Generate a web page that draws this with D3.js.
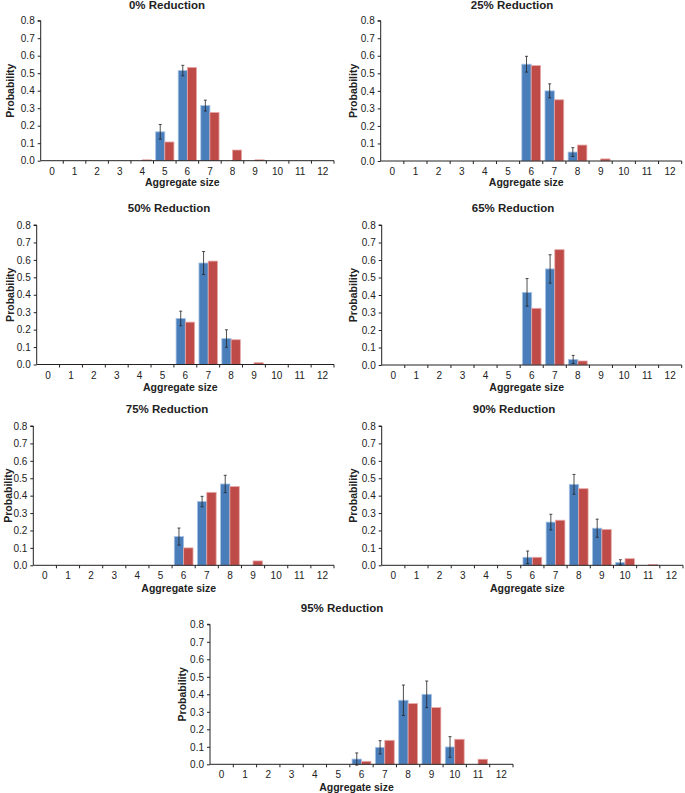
<!DOCTYPE html>
<html>
<head>
<meta charset="utf-8">
<script src="https://cdn.jsdelivr.net/npm/d3@7"></script>
<style>
  body { margin: 0; background: #fff; }
  text { font-family: "Liberation Sans", Arial, sans-serif; }
</style>
</head>
<body>
<div id="chart"></div>
<script>
// categories (aggregate size) and y ticks
const sizes = d3.range(0, 13);
const yTicks = [0, 0.1, 0.2, 0.3, 0.4, 0.5, 0.6, 0.7, 0.8];

const titles = ["0% Reduction", "25% Reduction", "50% Reduction", "65% Reduction",
                "75% Reduction", "90% Reduction", "95% Reduction"];

// blue series (observed) per panel, indexed by aggregate size 0..12
const blue0  = [0, 0, 0, 0, 0, 0.165, 0.515, 0.315, 0, 0, 0, 0, 0];
const blue25 = [0, 0, 0, 0, 0, 0, 0.552, 0.40, 0.051, 0, 0, 0, 0];
const blue50 = [0, 0, 0, 0, 0, 0, 0.264, 0.582, 0.149, 0, 0, 0, 0];
const blue65 = [0, 0, 0, 0, 0, 0, 0.415, 0.549, 0.032, 0, 0, 0, 0];
const blue75 = [0, 0, 0, 0, 0, 0, 0.165, 0.366, 0.467, 0, 0, 0, 0];
const blue90 = [0, 0, 0, 0, 0, 0, 0.046, 0.248, 0.465, 0.213, 0.017, 0, 0];
const blue95 = [0, 0, 0, 0, 0, 0, 0.030, 0.097, 0.366, 0.400, 0.099, 0, 0];

// error (half-length) on blue bars
const err0  = [0, 0, 0, 0, 0, 0.042, 0.03, 0.031, 0, 0, 0, 0, 0];
const err25 = [0, 0, 0, 0, 0, 0, 0.045, 0.04, 0.025, 0, 0, 0, 0];
const err50 = [0, 0, 0, 0, 0, 0, 0.042, 0.066, 0.05, 0, 0, 0, 0];
const err65 = [0, 0, 0, 0, 0, 0, 0.079, 0.081, 0.023, 0, 0, 0, 0];
const err75 = [0, 0, 0, 0, 0, 0, 0.049, 0.03, 0.05, 0, 0, 0, 0];
const err90 = [0, 0, 0, 0, 0, 0, 0.036, 0.045, 0.057, 0.052, 0.015, 0, 0];
const err95 = [0, 0, 0, 0, 0, 0, 0.035, 0.038, 0.087, 0.076, 0.059, 0, 0];

// red series (model)
const red0  = [0, 0, 0, 0, 0.005, 0.107, 0.533, 0.276, 0.061, 0.005, 0, 0, 0];
const red25 = [0, 0, 0, 0, 0, 0, 0.544, 0.349, 0.091, 0.012, 0, 0, 0];
const red50 = [0, 0, 0, 0, 0, 0, 0.243, 0.593, 0.142, 0.01, 0, 0, 0];
const red65 = [0, 0, 0, 0, 0, 0, 0.324, 0.659, 0.023, 0, 0, 0, 0];
const red75 = [0, 0, 0, 0, 0, 0, 0.10, 0.419, 0.452, 0.025, 0, 0, 0];
const red90 = [0, 0, 0, 0, 0, 0, 0.046, 0.259, 0.44, 0.206, 0.038, 0.004, 0];
const red95 = [0, 0, 0, 0, 0, 0, 0.017, 0.137, 0.347, 0.324, 0.143, 0.029, 0];

const blues = [blue0, blue25, blue50, blue65, blue75, blue90, blue95];
const errs  = [err0, err25, err50, err65, err75, err90, err95];
const reds  = [red0, red25, red50, red65, red75, red90, red95];

// plot-area boxes for each panel (left, right, top, bottom)
const boxes = [
  {l: 40.7, r: 334, t: 20.7, b: 160.7, tx: 167, ty: 9,   px: 10,  ay: 186},
  {l: 380.7, r: 681.7, t: 20.7, b: 161, tx: 512, ty: 9,  px: 353, ay: 186},
  {l: 36.7, r: 334, t: 225, b: 364.5, tx: 169, ty: 212,  px: 10,  ay: 391},
  {l: 381.7, r: 681.7, t: 225, b: 365, tx: 513, ty: 212, px: 353, ay: 391},
  {l: 33.3, r: 334, t: 426, b: 565.3, tx: 167, ty: 413,  px: 8,   ay: 592},
  {l: 381.7, r: 683, t: 426, b: 565.3, tx: 514, ty: 413, px: 353, ay: 592},
  {l: 210, r: 513, t: 624.3, b: 764.3, tx: 342, ty: 612, px: 182, ay: 791}
];

const blueFill = "#4a7ebb", blueEdge = "#a9c3e4";
const redFill = "#be4b48", redEdge = "#e6a9a8";
const axisColor = "#222";

const svg = d3.select("#chart").append("svg")
  .attr("width", 685)
  .attr("height", 793);

boxes.forEach((box, k) => {
  const g = svg.append("g");

  const pad = 0.19;
  const x = d3.scaleBand()
    .domain(sizes)
    .range([box.l, box.r])
    .paddingInner(pad)
    .paddingOuter(pad / 2);
  const xs = d3.scaleBand()
    .domain(["blue", "red"])
    .range([0, x.bandwidth()]);
  const y = d3.scaleLinear()
    .domain([0, 0.8])
    .range([box.b, box.t]);

  // bars
  const rows = sizes.map(s => ({s: s, blue: blues[k][s], red: reds[k][s], err: errs[k][s]}));

  g.selectAll("rect.blue")
    .data(rows.filter(d => d.blue > 0))
    .enter().append("rect")
      .attr("x", d => x(d.s) + xs("blue"))
      .attr("y", d => y(d.blue))
      .attr("width", xs.bandwidth())
      .attr("height", d => y(0) - y(d.blue))
      .style("fill", blueFill)
      .style("stroke", blueEdge)
      .style("stroke-width", 0.8);

  g.selectAll("rect.red")
    .data(rows.filter(d => d.red > 0))
    .enter().append("rect")
      .attr("x", d => x(d.s) + xs("red"))
      .attr("y", d => y(d.red))
      .attr("width", xs.bandwidth())
      .attr("height", d => y(0) - y(d.red))
      .style("fill", redFill)
      .style("stroke", redEdge)
      .style("stroke-width", 0.8);

  // error bars on the blue bars
  const eb = g.selectAll("g.err")
    .data(rows.filter(d => d.err > 0))
    .enter().append("g")
      .attr("transform", d => `translate(${x(d.s) + xs("blue") + xs.bandwidth() / 2},0)`)
      .style("stroke", "#222")
      .style("stroke-width", 0.8);
  eb.append("line")
    .attr("x1", 0).attr("x2", 0)
    .attr("y1", d => y(d.blue - d.err))
    .attr("y2", d => y(d.blue + d.err));
  eb.append("line")
    .attr("x1", -1.5).attr("x2", 1.5)
    .attr("y1", d => y(d.blue + d.err))
    .attr("y2", d => y(d.blue + d.err));
  eb.append("line")
    .attr("x1", -1.5).attr("x2", 1.5)
    .attr("y1", d => y(d.blue - d.err))
    .attr("y2", d => y(d.blue - d.err));

  // y axis
  const yAxis = d3.axisLeft(y)
    .tickValues(yTicks)
    .tickFormat(d3.format(".1f"))
    .tickSize(3)
    .tickPadding(3);
  const ya = g.append("g")
    .attr("transform", `translate(${box.l},0)`)
    .call(yAxis);
  ya.select(".domain").attr("d", `M-3,${box.t}H0V${box.b}`);

  // x axis: labels centred on bands, ticks at the band boundaries
  const step = x.step();
  const xa = g.append("g")
    .attr("transform", `translate(0,${box.b})`)
    .call(d3.axisBottom(x).tickSize(0).tickPadding(7).tickSizeOuter(0));
  xa.select(".domain").attr("d", `M${box.l},0H${box.r}`);
  xa.selectAll(".bound")
    .data(d3.range(1, sizes.length + 1))
    .enter().append("line")
      .attr("x1", i => box.l + step * i)
      .attr("x2", i => box.l + step * i)
      .attr("y1", 0)
      .attr("y2", 3)
      .style("stroke", axisColor);

  [ya, xa].forEach(a => {
    a.selectAll(".domain, .tick line").style("stroke", axisColor);
    a.selectAll("text")
      .style("font-size", "10px")
      .style("fill", "#222")
      .style("font-family", '"Liberation Sans", Arial, sans-serif');
  });

  // titles
  g.append("text")
    .attr("x", box.tx)
    .attr("y", box.ty)
    .attr("text-anchor", "middle")
    .style("font-size", "11.5px")
    .style("font-weight", "bold")
    .style("fill", "#222")
    .text(titles[k]);

  g.append("text")
    .attr("x", (box.l + box.r) / 2 - 5)
    .attr("y", box.ay)
    .attr("text-anchor", "middle")
    .style("font-size", "10.5px")
    .style("font-weight", "bold")
    .style("fill", "#222")
    .text("Aggregate size");

  const cy = (box.t + box.b) / 2;
  g.append("text")
    .attr("x", box.px)
    .attr("y", cy)
    .attr("text-anchor", "middle")
    .attr("dy", "0.35em")
    .attr("transform", `rotate(-90, ${box.px}, ${cy})`)
    .style("font-size", "10.5px")
    .style("font-weight", "bold")
    .style("fill", "#222")
    .text("Probability");
});
</script>
</body>
</html>
